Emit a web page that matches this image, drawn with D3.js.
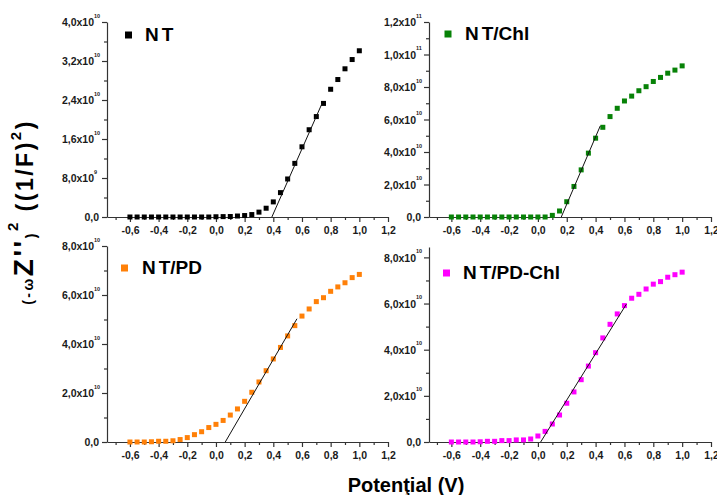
<!DOCTYPE html>
<html>
<head>
<meta charset="utf-8">
<script src="https://cdn.jsdelivr.net/npm/d3@7"></script>
<style>
  html, body { margin: 0; padding: 0; background: #fff; }
  svg { display: block; }
  text { font-family: "Liberation Sans", Arial, sans-serif; font-weight: bold; }
</style>
</head>
<body>
<svg id="chart" width="717" height="495"></svg>
<script>
// ---------- DATA ----------
const potentials = [-0.6, -0.55, -0.5, -0.45, -0.4, -0.35, -0.3, -0.25, -0.2, -0.15, -0.1, -0.05,
  0.0, 0.05, 0.1, 0.15, 0.2, 0.25, 0.3, 0.35, 0.4, 0.45, 0.5, 0.55, 0.6, 0.65, 0.7, 0.75,
  0.8, 0.85, 0.9, 0.95, 1.0];

// values in units of 1e10 (1/F)^2
const ntValues = [0, 0, 0, 0, 0, 0, 0, 0, 0, 0, 0, 0, 0.005, 0.008,
  0.01, 0.02, 0.03, 0.05, 0.1, 0.18, 0.31, 0.5, 0.78, 1.1, 1.44, 1.79, 2.06, 2.33, 2.62, 2.82, 3.04, 3.23, 3.41];
const ntChlValues = [0, 0, 0, 0, 0, 0, 0, 0, 0, 0, 0, 0, 0, 0,
  0.1, 0.37, 0.94, 1.88, 2.9, 3.93, 4.85, 5.52, 6.18, 6.69, 7.14, 7.44, 7.77, 8.02, 8.34, 8.59, 8.85, 9.04, 9.3];
const ntPdValues = [0, 0, 0, 0.01, 0.03, 0.03, 0.05, 0.1, 0.18, 0.3, 0.42, 0.59, 0.72, 0.88,
  1.1, 1.35, 1.66, 2.03, 2.45, 2.91, 3.39, 3.86, 4.33, 4.75, 5.14, 5.43, 5.73, 5.89, 6.15, 6.33, 6.5, 6.71, 6.84];
const ntPdChlValues = [0, 0, 0, 0, 0.01, 0.03, 0.03, 0.06, 0.06, 0.09, 0.09, 0.13, 0.26, 0.46,
  0.78, 1.17, 1.68, 2.17, 2.7, 3.29, 3.87, 4.51, 5.1, 5.55, 5.91, 6.23, 6.4, 6.63, 6.84, 6.95, 7.14, 7.25, 7.36];

// linear fit segments [x, y(1e10)]
const ntFit = [[0.39, 0], [0.74, 2.33]];
const ntChlFit = [[0.162, 0], [0.432, 5.6]];
const ntPdFit = [[0.065, 0], [0.565, 5.03]];
const ntPdChlFit = [[0.019, 0], [0.613, 5.97]];

const seriesNames = ["NT", "NT/Chl", "NT/PD", "NT/PD-Chl"];

const xTicks = [-0.6, -0.4, -0.2, 0.0, 0.2, 0.4, 0.6, 0.8, 1.0, 1.2];
const xTickLabels = ["-0,6", "-0,4", "-0,2", "0,0", "0,2", "0,4", "0,6", "0,8", "1,0", "1,2"];
const xMinorTicks = [-0.7, -0.5, -0.3, -0.1, 0.1, 0.3, 0.5, 0.7, 0.9, 1.1];

const ntYTicks = [0, 0.8, 1.6, 2.4, 3.2, 4.0];
const ntYLabels = [["0,0", ""], ["8,0x10", "9"], ["1,6x10", "10"], ["2,4x10", "10"], ["3,2x10", "10"], ["4,0x10", "10"]];
const ntYMinor = [0.4, 1.2, 2.0, 2.8, 3.6];

const chlYTicks = [0, 2, 4, 6, 8, 10, 12];
const chlYLabels = [["0,0", ""], ["2,0x10", "10"], ["4,0x10", "10"], ["6,0x10", "10"], ["8,0x10", "10"], ["1,0x10", "11"], ["1,2x10", "11"]];
const chlYMinor = [1, 3, 5, 7, 9, 11];

const pdYTicks = [0, 2, 4, 6, 8];
const pdYLabels = [["0,0", ""], ["2,0x10", "10"], ["4,0x10", "10"], ["6,0x10", "10"], ["8,0x10", "10"]];
const pdYMinor = [1, 3, 5, 7];

const colors = ["#000000", "#078207", "#ff8008", "#ff00ff"];

// ---------- LAYOUT ----------
const panels = [
  { name: seriesNames[0], values: ntValues, fit: ntFit, color: colors[0],
    yTicks: ntYTicks, yLabels: ntYLabels, yMinor: ntYMinor, yMax: 4.0,
    left: 107, right: 388, top: 22, bottom: 217, xMin: -0.76,
    legend: [128.5, 35], legendText: [145, 41] },
  { name: seriesNames[1], values: ntChlValues, fit: ntChlFit, color: colors[1],
    yTicks: chlYTicks, yLabels: chlYLabels, yMinor: chlYMinor, yMax: 12,
    left: 429, right: 711, top: 22, bottom: 217, xMin: -0.755,
    legend: [448, 34], legendText: [465, 40] },
  { name: seriesNames[2], values: ntPdValues, fit: ntPdFit, color: colors[2],
    yTicks: pdYTicks, yLabels: pdYLabels, yMinor: pdYMinor, yMax: 8,
    left: 107, right: 388, top: 246, bottom: 442, xMin: -0.76,
    legend: [124.5, 268], legendText: [142, 274] },
  { name: seriesNames[3], values: ntPdChlValues, fit: ntPdChlFit, color: colors[3],
    yTicks: pdYTicks, yLabels: pdYLabels, yMinor: pdYMinor, yMax: 8.45,
    left: 429, right: 711, top: 247, bottom: 442, xMin: -0.755,
    legend: [446.5, 273], legendText: [463, 279] }
];

const svg = d3.select("#chart");
const axisColor = "#333";
const labelColor = "#1a1a1a";

panels.forEach(p => {
  const x = d3.scaleLinear().domain([p.xMin, 1.2]).range([p.left, p.right]);
  const y = d3.scaleLinear().domain([0, p.yMax]).range([p.bottom, p.top]);
  const g = svg.append("g");

  // x axis (major)
  const xAxis = d3.axisBottom(x).tickValues(xTicks)
    .tickFormat((d, i) => xTickLabels[i]).tickSize(5).tickSizeOuter(0).tickPadding(5);
  const gx = g.append("g").attr("transform", `translate(0,${p.bottom})`).call(xAxis);
  gx.select(".domain").attr("stroke", axisColor).attr("stroke-width", 1.2);
  gx.selectAll(".tick line").attr("stroke", axisColor).attr("stroke-width", 1.2);
  gx.selectAll(".tick text").attr("fill", labelColor).attr("font-size", 10.5)
    .attr("font-family", "Liberation Sans, Arial, sans-serif").attr("font-weight", "bold");
  // x minor ticks
  const gxm = g.append("g").attr("transform", `translate(0,${p.bottom})`)
    .call(d3.axisBottom(x).tickValues(xMinorTicks).tickFormat("").tickSize(3).tickSizeOuter(0));
  gxm.select(".domain").remove();
  gxm.selectAll(".tick line").attr("stroke", axisColor).attr("stroke-width", 1.2);

  // y axis (major)
  const yAxis = d3.axisLeft(y).tickValues(p.yTicks).tickFormat("").tickSize(5).tickSizeOuter(0);
  const gy = g.append("g").attr("transform", `translate(${p.left},0)`).call(yAxis);
  gy.select(".domain").attr("stroke", axisColor).attr("stroke-width", 1.2);
  gy.selectAll(".tick line").attr("stroke", axisColor).attr("stroke-width", 1.2);
  // y labels with superscript exponents
  gy.selectAll(".tick").each(function(d, i) {
    const lab = p.yLabels[i];
    const t = d3.select(this).append("text")
      .attr("x", lab[1] ? -13 : -8).attr("y", 0).attr("dy", "0.35em")
      .attr("text-anchor", "end").attr("fill", labelColor)
      .attr("font-size", 10.5).attr("font-weight", "bold")
      .attr("font-family", "Liberation Sans, Arial, sans-serif");
    t.append("tspan").text(lab[0]);
    if (lab[1]) {
      d3.select(this).append("text")
        .attr("x", -13).attr("y", -5)
        .attr("text-anchor", "start").attr("fill", labelColor)
        .attr("font-size", 5.5).attr("font-weight", "bold")
        .attr("font-family", "Liberation Sans, Arial, sans-serif")
        .text(lab[1]);
    }
  });
  // y minor ticks
  const gym = g.append("g").attr("transform", `translate(${p.left},0)`)
    .call(d3.axisLeft(y).tickValues(p.yMinor).tickFormat("").tickSize(3).tickSizeOuter(0));
  gym.select(".domain").remove();
  gym.selectAll(".tick line").attr("stroke", axisColor).attr("stroke-width", 1.2);

  // data points
  const pts = potentials.map((v, i) => [v, p.values[i]]);
  const s = 5;
  g.append("g").selectAll("rect").data(pts).join("rect")
    .attr("x", d => x(d[0]) - s / 2).attr("y", d => y(d[1]) - s / 2)
    .attr("width", s).attr("height", s).attr("fill", p.color);

  // fit line
  g.append("path").datum(p.fit)
    .attr("d", d3.line().x(d => x(d[0])).y(d => y(d[1])))
    .attr("stroke", "#111").attr("stroke-width", 1).attr("fill", "none");

  // legend
  const ls = 7;
  g.append("rect").attr("x", p.legend[0] - ls / 2).attr("y", p.legend[1] - ls / 2)
    .attr("width", ls).attr("height", ls).attr("fill", p.color);
  const lt = g.append("text").attr("x", p.legendText[0]).attr("y", p.legendText[1])
    .attr("font-size", 19).attr("fill", "#000");
  lt.append("tspan").text(p.name.slice(0, 1));
  lt.append("tspan").attr("dx", 3).text(p.name.slice(1));
});

// axis titles
svg.append("text").attr("x", 406).attr("y", 492).attr("text-anchor", "middle")
  .attr("font-size", 20).attr("fill", "#000").text("Potenţial (V)");

const yl = svg.append("text")
  .attr("transform", "translate(33,212) rotate(-90)")
  .attr("text-anchor", "middle").attr("fill", "#000").attr("font-size", 23)
  .attr("letter-spacing", 2.5);
yl.append("tspan").attr("font-size", 14).text("(-ω");
yl.append("tspan").attr("font-size", 28).text("Z''");
yl.append("tspan").attr("font-size", 14).attr("dy", 3).text(")");
yl.append("tspan").attr("font-size", 15).attr("dy", -18).text("2");
yl.append("tspan").attr("dy", 15).text(" ((1/F)");
yl.append("tspan").attr("font-size", 15).attr("dy", -12).text("2");
yl.append("tspan").attr("dy", 12).text(")");
</script>
</body>
</html>
